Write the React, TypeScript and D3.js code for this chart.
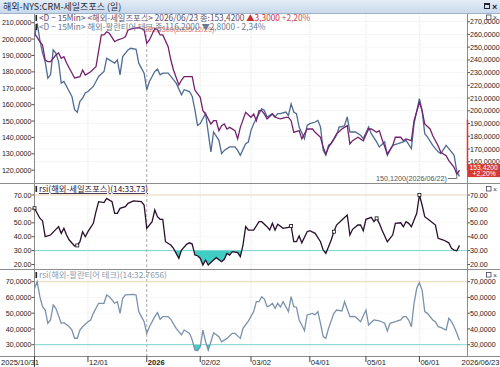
import React from 'react';
import * as d3 from 'd3';

// ---------- data (trading-day index since 2025/10/31, value) ----------
const crmClose: [number, number][] = [
  [0,260.9],[2,254.3],[3,251.7],[4,239.9],[5,238.6],[6,238.6],[8,243.8],[9,245.4],[10,241.2],[11,242.5],[12,237.6],
  [14,229.7],[15,225.8],[17,226.8],[18,232.1],[19,228.1],[21,230.7],[23,234.7],[25,259.6],[26,259.6],[27,262.1],
  [28,260.9],[30,254.3],[31,255.6],[33,257.0],[34,258.2],[35,263.5],[37,264.8],[39,265.25],[40,264.5],[41,263.5],
  [42,253.0],[43,255.6],[45,264.6],[46,263.8],[47,259.6],[48,259.6],[50,250.4],[51,239.9],[52,232.1],[54,220.3],
  [55,224.2],[56,226.8],[59,226.8],[60,216.3],[62,210.6],[63,200.1],[64,197.5],[66,189.6],[67,192.2],[68,192.2],
  [69,184.4],[70,188.3],[71,189.6],[72,185.7],[73,187.0],[75,184.4],[76,177.9],[77,187.0],[79,198.8],[81,194.9],
  [82,197.5],[83,192.2],[84,200.1],[85,200.1],[86,197.5],[87,193.6],[89,197.5],[90,194.9],[92,193.6],[94,194.9],
  [95,194.9],[96,192.2],[97,183.1],[99,184.4],[100,177.9],[102,185.7],[104,185.7],[105,183.1],[107,179.2],[108,171.3],
  [109,166.1],[110,171.3],[112,177.9],[113,181.8],[115,185.7],[117,188.3],[118,173.9],[119,176.5],[121,179.2],
  [123,176.5],[125,185.7],[126,185.7],[128,183.1],[129,184.4],[130,177.9],[132,166.1],[134,172.6],[135,179.2],
  [137,179.2],[138,176.5],[139,177.9],[141,176.5],[142,192.2],[144,206.7],[145,200.1],[146,189.6],[148,185.7],
  [149,180.4],[151,172.6],[152,167.4],[154,164.7],[155,160.8],[157,155.6],[158,150.12],[159,153.42]
];

const pltrClose: [number, number][] = [
  [0,201.5],[1,209.6],[2,199.5],[3,191.4],[4,186.3],[5,176.2],[6,178.2],[7,193.4],[8,191.4],[9,186.3],[10,173.1],
  [11,174.1],[13,168.0],[14,165.0],[15,156.9],[16,155.3],[17,162.0],[18,164.0],[19,167.1],[20,168.0],[22,171.1],
  [23,174.1],[24,177.2],[26,180.2],[27,188.3],[28,187.3],[30,185.3],[31,187.3],[32,178.2],[33,189.3],[35,193.4],
  [36,194.4],[38,193.8],[39,185.3],[41,179.2],[42,169.1],[43,174.1],[45,180.2],[46,181.7],[47,178.2],[48,179.2],
  [50,179.2],[51,177.2],[53,173.1],[55,166.0],[56,169.1],[58,168.0],[59,165.0],[60,156.9],[61,147.3],[62,148.4],
  [64,154.5],[66,131.2],[67,143.3],[69,138.2],[70,130.1],[71,132.1],[73,134.2],[75,134.2],[76,132.1],[77,129.1],
  [79,136.2],[80,137.2],[81,144.3],[82,148.4],[84,154.5],[85,157.5],[86,156.5],[87,152.5],[89,154.5],[90,152.5],
  [91,154.5],[92,154.5],[94,155.5],[95,153.4],[96,160.5],[97,155.5],[98,154.5],[99,146.4],[101,139.3],[102,147.3],
  [103,148.4],[105,149.4],[106,150.4],[107,146.4],[108,132.1],[109,129.1],[110,135.2],[111,136.2],[113,141.3],
  [114,146.4],[115,146.4],[116,147.3],[117,152.5],[118,143.3],[120,143.3],[122,141.3],[123,139.3],[125,146.4],
  [126,142.3],[128,137.3],[129,134.2],[131,137.3],[132,129.1],[134,135.2],[136,136.2],[138,137.3],[139,138.2],
  [141,133.2],[142,148.4],[144,163.6],[145,156.5],[146,142.3],[147,140.3],[149,135.2],[151,131.2],[152,130.1],
  [154,135.2],[155,133.2],[157,129.1],[158,119.0],[159,116.2]
];

const rsiCrm: [number, number][] = [
  [0,60.5],[2,53.3],[3,51.5],[4,40],[6,41.2],[8,45.3],[9,47.2],[10,42.4],[11,46],[12,41.2],[13,37.6],[15,33.3],
  [16,33.7],[17,36.4],[18,43.6],[19,40],[20,43.6],[22,49.6],[23,58],[24,65.2],[26,64.5],[27,67.6],[29,65.2],
  [30,56.8],[31,56.8],[32,60.4],[34,61.6],[35,64],[37,65.7],[40,65.2],[41,62.8],[42,46],[44,50.8],[45,59.2],
  [46,54.4],[47,52.5],[48,52.5],[49,36.4],[51,34],[52,31.6],[54,24.5],[55,30.4],[57,34.7],[58,35.6],[59,34.7],
  [60,26.8],[61,26.3],[62,24.5],[63,19.6],[64,23.2],[65,19.6],[67,23.2],[68,24.9],[70,22],[71,23.7],[72,28],
  [73,26.8],[74,29.2],[76,28.5],[77,25.6],[78,34],[79,47.2],[80,44.8],[82,44.8],[84,50.8],[85,50.8],[87,47.2],
  [88,44.8],[89,49.6],[90,44.8],[91,48.9],[93,46],[95,46.7],[96,47.7],[97,36.4],[98,36.4],[99,40.5],[100,35.6],
  [102,43.6],[103,44.3],[105,42.4],[107,36.4],[108,30.4],[109,28],[111,37.6],[112,43.6],[113,48.4],[115,52],
  [117,55.6],[118,41.2],[119,45.3],[121,48.4],[122,48.4],[123,44.3],[124,52.5],[126,53.9],[127,50.8],[128,53.2],
  [129,49.6],[130,44.8],[132,36.4],[134,41.2],[135,49.6],[137,50],[138,47.2],[139,50.8],[140,49.6],[141,47.2],
  [143,56.8],[144,70],[145,62.8],[146,54.4],[148,51.5],[150,48.4],[151,38.8],[153,37.6],[155,35.6],[156,31.6],
  [157,30.4],[158,29.9],[159,33.73]
];

const rsiPltr: [number, number][] = [
  [0,65.8],[1,70],[2,60.5],[3,54.1],[4,52],[5,43.6],[6,45.7],[7,55.2],[8,53.1],[10,43.6],[11,44],[13,41.4],
  [14,39.3],[15,34.1],[16,34.1],[17,39.3],[18,41.4],[20,44.6],[21,45.7],[22,49.9],[23,53.1],[24,56.3],[26,56.3],
  [27,61.6],[28,60.5],[30,56.3],[31,57.3],[32,49.9],[33,59.5],[34,61.6],[37,62],[38,61.6],[39,51],[40,47.8],
  [41,44.6],[42,37.2],[43,41.4],[45,47.8],[46,50.3],[47,46.1],[48,47.8],[50,47.8],[51,46.1],[53,40.4],[55,36.2],
  [56,39.3],[58,37.2],[59,33],[60,26.7],[61,26.2],[62,28.7],[63,39.3],[64,31.9],[65,26.6],[66,31.9],[67,37.6],
  [69,35.1],[70,31.9],[72,34],[74,37.2],[75,37.2],[77,34],[78,40.4],[80,45],[82,51],[83,57.3],[84,57.3],[85,60.5],
  [86,59],[87,54.1],[88,54.8],[89,56.3],[90,53.1],[91,56.3],[92,53.9],[93,57.3],[95,51],[96,60.5],[97,54.1],
  [98,53.8],[99,45.7],[100,42.5],[101,38.9],[102,48.9],[104,49.9],[105,49],[106,51],[107,43.6],[108,35.1],
  [109,34.1],[110,40.4],[112,49.9],[113,52],[115,51.4],[116,57.3],[118,47.8],[119,48],[120,47.8],[122,44.6],
  [124,52],[125,42.5],[127,45.7],[129,45.2],[131,43.6],[132,38.7],[133,43.6],[135,44.6],[137,45.7],[138,47.8],
  [139,47.8],[140,45.7],[141,41.4],[142,56.3],[143,65.8],[144,69.4],[145,64.7],[146,51],[147,49.9],[149,45.7],
  [150,44.6],[151,41.4],[152,41],[154,39.3],[155,46.8],[156,44.6],[157,41.4],[158,37.2],[159,32.77]
];

const rsiMarkerDays = [0, 16, 96, 112, 128, 144];

const xTickDays = [0, 20, 42, 62, 81, 103, 124, 144, 159];
const xTickLabels = ['2025/10/31', '12/01', '2026', '02/02', '03/02', '04/01', '05/01', '06/01', '2026/06/23'];

const crmTicks = [270, 260, 250, 240, 230, 220, 210, 200, 190, 180, 170, 160];
const pltrTicks = [210, 200, 190, 180, 170, 160, 150, 140, 130, 120];
const rsi1Ticks = [70, 60, 50, 40, 30, 20];
const rsi2Ticks = [70, 60, 50, 40, 30];

const fmt4 = (v: number) => v.toFixed(4).replace('.', ',');
const fmt2 = (v: number) => v.toFixed(2);

const NUM = "'Liberation Sans', Arial, sans-serif";
const KR = "'Noto Sans CJK KR', 'Liberation Sans', sans-serif";

export default function App() {
  const x = d3.scaleLinear().domain([0, 159]).range([34.5, 459.5]);
  const yCrm = d3.scaleLinear().domain([160, 270]).range([161.7, 21.7]);
  const yPltr = d3.scaleLinear().domain([120, 210]).range([170.2, 22.7]);
  const yR1 = d3.scaleLinear().domain([20, 70]).range([264.5, 195]);
  const yR2 = d3.scaleLinear().domain([30, 70]).range([344.7, 281.7]);

  const mk = (ys: d3.ScaleLinear<number, number>) =>
    d3.line<[number, number]>().x(d => x(d[0])).y(d => ys(d[1]));
  const mkArea = (ys: d3.ScaleLinear<number, number>) =>
    d3.area<[number, number]>().x(d => x(d[0])).y0(ys(30)).y1(d => ys(d[1]));

  const leftX = 34.5;
  const rightX = 467.5;
  const mainTop = 14;
  const r1Top = 183, r1Bot = 269;
  const r2Top = 269, r2Bot = 356;

  const monthDays = xTickDays.slice(1, -1);

  const crmLow = crmClose[crmClose.length - 2];
  const crmHigh = crmClose.find(d => d[0] === 39)!;
  const crmLast = crmClose[crmClose.length - 1];

  const rsiLookup = (day: number) => rsiCrm.find(d => d[0] === day)!;
  const RFS = 7.1;

  return (
    <svg width={500} height={367} style={{ position: 'fixed', left: 0, top: 0, background: '#fff' }}
      fontFamily={NUM}>
      <defs>
        <linearGradient id="tb" x1="0" y1="0" x2="0" y2="1">
          <stop offset="0" stopColor="#e4edf7" />
          <stop offset="1" stopColor="#c9d9ec" />
        </linearGradient>
        <clipPath id="below1"><rect x={0} y={yR1(30)} width={500} height={r1Bot - yR1(30)} /></clipPath>
        <clipPath id="below2"><rect x={0} y={yR2(30)} width={500} height={r2Bot - yR2(30)} /></clipPath>
        <clipPath id="plot"><rect x={leftX} y={0} width={rightX - leftX} height={367} /></clipPath>
      </defs>
      <rect x={0} y={0} width={500} height={367} fill="#fff" />

      {/* title bar */}
      <rect x={0} y={0} width={500} height={13} fill="url(#tb)" />
      <line x1={0} x2={500} y1={13.5} y2={13.5} stroke="#9fb4cc" />
      <text x={3} y={10} fontSize={9} fontFamily={KR} fill="#1d2a3a">해외-NYS:CRM-세일즈포스 (일)</text>
      <rect x={484.5} y={3.5} width={5} height={5} fill="none" stroke="#223" strokeWidth={1} />
      <rect x={484.5} y={3.5} width={5} height={1.5} fill="#223" />
      <text x={492} y={10} fontSize={9} fontWeight="bold" fill="#223">×</text>

      {/* grid: months */}
      {monthDays.map((d, i) => (
        <line key={'g' + i} x1={x(d)} x2={x(d)} y1={mainTop} y2={r2Bot}
          stroke={d === 42 ? '#a8a8a8' : '#e4e4e4'} strokeDasharray={d === 42 ? '3,2' : '1,1'} />
      ))}
      {/* grid: horizontal */}
      {crmTicks.map((t, i) => (
        <line key={'h' + i} x1={leftX} x2={rightX} y1={yCrm(t)} y2={yCrm(t)} stroke="#ececec" strokeDasharray="1,1" />
      ))}
      {rsi1Ticks.map((t, i) => (
        <line key={'h1' + i} x1={leftX} x2={rightX} y1={yR1(t)} y2={yR1(t)} stroke="#f0f0f0" strokeDasharray="1,1" />
      ))}
      {rsi2Ticks.map((t, i) => (
        <line key={'h2' + i} x1={leftX} x2={rightX} y1={yR2(t)} y2={yR2(t)} stroke="#f0f0f0" strokeDasharray="1,1" />
      ))}

      {/* panel separators */}
      <line x1={0} x2={500} y1={r1Top + 0.5} y2={r1Top + 0.5} stroke="#8c8c8c" />
      <line x1={0} x2={500} y1={r2Top + 0.5} y2={r2Top + 0.5} stroke="#8c8c8c" />
      <line x1={0} x2={500} y1={r2Bot + 0.5} y2={r2Bot + 0.5} stroke="#8c8c8c" />
      <line x1={leftX} x2={leftX} y1={mainTop} y2={r2Bot} stroke="#8c8c8c" />
      <line x1={rightX} x2={rightX} y1={mainTop} y2={r2Bot} stroke="#8c8c8c" />

      {/* RSI reference lines */}
      <line x1={leftX} x2={rightX} y1={yR1(70)} y2={yR1(70)} stroke="#e9d7b8" />
      <line x1={leftX} x2={rightX} y1={yR1(30)} y2={yR1(30)} stroke="#8fd6d2" />
      <line x1={leftX} x2={rightX} y1={yR2(70)} y2={yR2(70)} stroke="#e9d7b8" />
      <line x1={leftX} x2={rightX} y1={yR2(30)} y2={yR2(30)} stroke="#8fd6d2" />

      {/* high annotation (behind header) */}
      <text x={x(crmHigh[0]) + 5} y={31.5} fontSize={7.2} fill="#d85858" opacity={0.85}>{fmt4(crmHigh[1])}(2025/12/29)</text>

      {/* main lines */}
      <g clipPath="url(#plot)">
        <path d={mk(yPltr)(pltrClose)!} fill="none" stroke="#4e6b92" strokeWidth={1.3} />
        <path d={mk(yCrm)(crmClose)!} fill="none" stroke="#74226f" strokeWidth={1.3} />
      </g>

      {/* low annotation */}
      <text x={x(crmLow[0]) - 10} y={181} fontSize={7.2} fill="#555" textAnchor="end">{fmt4(crmLow[1])}(2026/06/22)</text>
      <line x1={x(crmLow[0]) - 9} x2={x(crmLow[0])} y1={178.5} y2={178.5} stroke="#777" />
      <line x1={x(crmLow[0])} x2={x(crmLow[0])} y1={178.5} y2={yCrm(crmLow[1])} stroke="#777" />

      {/* header lines */}
      <rect x={35.5} y={15} width={1.6} height={6} fill="#222" />
      <text x={39} y={21} fontSize={8.3} fontFamily={KR} fill="#5d4d6d">
        {'<D − 15Min> <해외-세일즈포스> 2026/06/23 종:153,4200 '}
        <tspan fill="#cc2c2c">{' ▲3,3000'}</tspan>
        <tspan fill="#c65050">{'  +2,20%'}</tspan>
      </text>
      <rect x={35.5} y={24} width={1.6} height={6} fill="#222" />
      <text x={39} y={30} fontSize={8.3} fontFamily={KR} fill="#687b94">
        {'<D − 15Min> 해외-팔란티어 테크 종:116,2000 ▼2,8000 - 2,34%'}
      </text>

      {/* left axis main (PLTR) */}
      {pltrTicks.map((t, i) => (
        <g key={'lp' + i}>
          <line x1={leftX - 3} x2={leftX} y1={yPltr(t)} y2={yPltr(t)} stroke="#555" />
          <text x={leftX - 3} y={yPltr(t) + 2.6} fontSize={RFS} textAnchor="end" fill="#222">{fmt4(t)}</text>
        </g>
      ))}
      {/* right axis main (CRM) */}
      {crmTicks.map((t, i) => (
        <g key={'rc' + i}>
          <line x1={rightX} x2={rightX + 2.5} y1={yCrm(t)} y2={yCrm(t)} stroke="#555" />
          <text x={rightX + 2.5} y={yCrm(t) + 2.6} fontSize={RFS} fill="#222">{fmt4(t)}</text>
        </g>
      ))}
      {/* last price marker */}
      <line x1={rightX} x2={rightX} y1={yCrm(193)} y2={yCrm(crmLast[1])} stroke="#e03030" strokeWidth={1.5} />
      <rect x={rightX} y={yCrm(crmLast[1]) - 6} width={33} height={13} fill="#d83a32" />
      <text x={rightX + 2} y={yCrm(crmLast[1]) - 0.5} fontSize={6.8} fill="#fff">{fmt4(crmLast[1])}</text>
      <text x={rightX + 5} y={yCrm(crmLast[1]) + 6} fontSize={6.8} fill="#fff">+2,20%</text>

      {/* RSI 1 */}
      <path d={mkArea(yR1)(rsiCrm)!} fill="#3fcdc4" clipPath="url(#below1)" />
      <path d={mk(yR1)(rsiCrm)!} fill="none" stroke="#2a0f2c" strokeWidth={1.3} />
      {rsiMarkerDays.map((d, i) => {
        const p = rsiLookup(d);
        return <rect key={'m' + i} x={x(p[0]) - 1.5} y={yR1(p[1]) - 1.5} width={3} height={3} fill="#fff" stroke="#111" strokeWidth={0.8} />;
      })}
      <rect x={35.5} y={186} width={1.6} height={6} fill="#222" />
      <text x={39} y={192} fontSize={8.3} fontFamily={KR} fill="#2a1030" textDecoration="underline">rsi(해외-세일즈포스)(14:33.73)</text>
      {rsi1Ticks.map((t, i) => (
        <g key={'r1' + i}>
          <line x1={leftX - 3} x2={leftX} y1={yR1(t)} y2={yR1(t)} stroke="#555" />
          <text x={leftX - 3} y={yR1(t) + 2.6} fontSize={RFS} textAnchor="end" fill="#222">{fmt2(t)}</text>
          <line x1={rightX} x2={rightX + 2.5} y1={yR1(t)} y2={yR1(t)} stroke="#555" />
          <text x={rightX + 2.5} y={yR1(t) + 2.6} fontSize={RFS} fill="#222">{fmt2(t)}</text>
        </g>
      ))}

      {/* RSI 2 */}
      <path d={mkArea(yR2)(rsiPltr)!} fill="#3fcdc4" clipPath="url(#below2)" />
      <path d={mk(yR2)(rsiPltr)!} fill="none" stroke="#7b91ab" strokeWidth={1.3} />
      <rect x={35.5} y={272} width={1.6} height={6} fill="#222" />
      <text x={39} y={278} fontSize={8.3} fontFamily={KR} fill="#8a9aae">rsi(해외-팔란티어 테크)(14:32.7656)</text>
      {rsi2Ticks.map((t, i) => (
        <g key={'r2' + i}>
          <line x1={leftX - 3} x2={leftX} y1={yR2(t)} y2={yR2(t)} stroke="#555" />
          <text x={leftX - 3} y={yR2(t) + 2.6} fontSize={RFS} textAnchor="end" fill="#222">{fmt4(t)}</text>
          <line x1={rightX} x2={rightX + 2.5} y1={yR2(t)} y2={yR2(t)} stroke="#555" />
          <text x={rightX + 2.5} y={yR2(t) + 2.6} fontSize={RFS} fill="#222">{fmt4(t)}</text>
        </g>
      ))}

      {/* panel icons */}
      {[14.5, 186, 272].map((yy, i) => (
        <g key={'ic' + i}>
          <rect x={486.5} y={yy + 0.5} width={4.5} height={4.5} fill="#fff" stroke="#445" strokeWidth={0.8} />
          <text x={493} y={yy + 5.5} fontSize={7} fill="#445">×</text>
        </g>
      ))}

      {/* x axis */}
      {xTickDays.map((d, i) => {
        const first = i === 0;
        const last = i === xTickDays.length - 1;
        const tx = first ? 1 : last ? 499.5 : x(d) + 1;
        return (
          <g key={'x' + i}>
            {!last && <line x1={x(d)} x2={x(d)} y1={r2Bot} y2={first ? 367 : r2Bot + 6} stroke="#444" />}
            <text x={tx} y={365} fontSize={7.6} fill="#222"
              textAnchor={last ? 'end' : 'start'} fontWeight={xTickLabels[i] === '2026' ? 'bold' : 'normal'}>
              {xTickLabels[i]}
            </text>
          </g>
        );
      })}
    </svg>
  );
}
